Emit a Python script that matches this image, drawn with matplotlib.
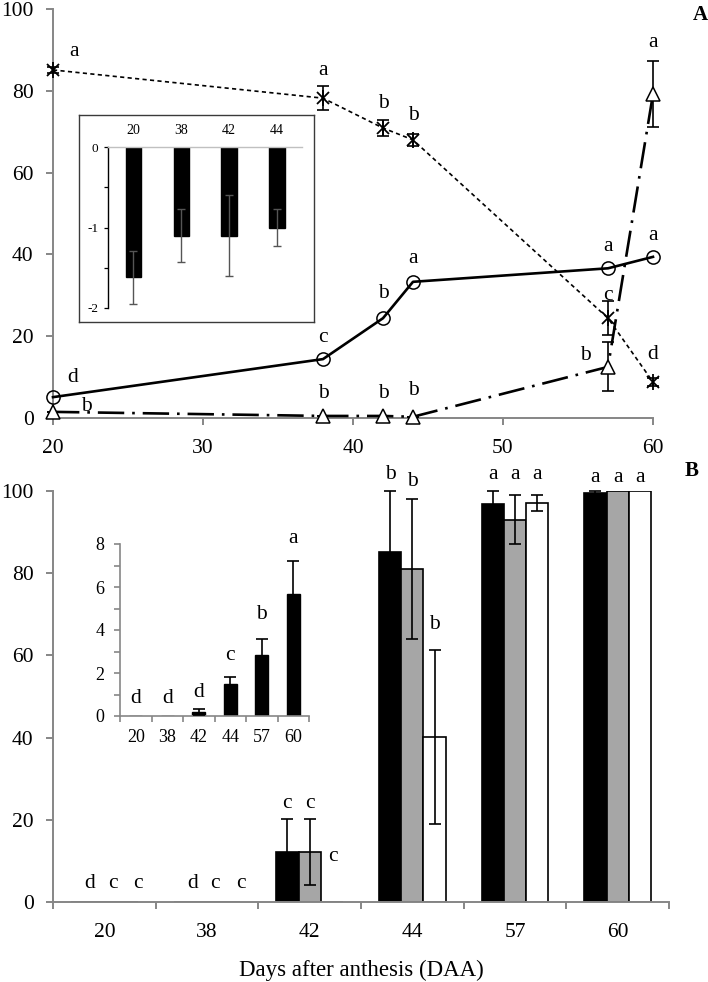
import matplotlib
matplotlib.use("Agg")
import matplotlib.pyplot as plt
import numpy as np

plt.rcParams['font.family'] = ['Liberation Serif', 'DejaVu Serif']

# ---------------- Panel A data ----------------
daa = [20, 38, 42, 44, 57, 60]
star_vals = [85.1, 78.2, 70.9, 68.0, 24.4, 8.8]
star_err = [0.8, 3.0, 2.0, 1.5, 4.2, 1.0]
star_letters = ['a', 'a', 'b', 'b', 'c', 'd']
circ_vals = [5.1, 14.4, 24.4, 33.3, 36.6, 39.4]
circ_letters = ['d', 'c', 'b', 'a', 'a', 'a']
tri_vals = [1.5, 0.5, 0.5, 0.3, 12.5, 79.2]
tri_err = [0, 0, 0, 0, 6.0, 8.0]
tri_letters = ['b', 'b', 'b', 'b', 'b', 'a']

inset_a_days = ['20', '38', '42', '44']
inset_a_vals = [-1.62, -1.10, -1.10, -1.00]
inset_a_err = [0.33, 0.33, 0.50, 0.23]

# ---------------- Panel B data ----------------
days_b = ['20', '38', '42', '44', '57', '60']
black_vals = [0, 0, 12.2, 85.1, 96.8, 99.6]
black_err = [0, 0, 8.1, 14.9, 3.2, 0.3]
gray_vals = [0, 0, 12.2, 81.0, 93.0, 100.0]
gray_err = [0, 0, 8.1, 17.0, 6.0, 0]
white_vals = [0, 0, 0, 40.1, 97.1, 100.0]
white_err = [0, 0, 0, 21.1, 2.0, 0]
black_letters = ['d', 'd', 'c', 'b', 'a', 'a']
gray_letters = ['c', 'c', 'c', 'b', 'a', 'a']
white_letters = ['c', 'c', 'c', 'b', 'a', 'a']

inset_b_days = ['20', '38', '42', '44', '57', '60']
inset_b_vals = [0, 0, 0.19, 1.5, 2.86, 5.67]
inset_b_err = [0, 0, 0.14, 0.33, 0.70, 1.55]
inset_b_letters = ['d', 'd', 'd', 'c', 'b', 'a']

# ---------------- label layout (positions, not data) ----------------
star_lab = [(1.4, 89.5), (0, 85), (0, 77), (0, 74), (0, 30), (0, 15.5)]
circ_lab = [(1.3, 9.8), (0, 19.8), (0, 30.5), (0, 39), (0, 42), (0, 44.7)]
tri_lab = [(2.2, 2.8), (0, 6), (0, 6), (0, 6.8), (-1.5, 15.4), (0, 91.7)]
black_lab = [(-0.14, 4.6), (-0.14, 4.6), (-0.217, 24), (-0.217, 103.9), (-0.217, 103.9), (-0.217, 103.4)]
gray_lab = [(0.08, 4.6), (0.08, 4.6), (0.0, 24), (0.0, 102.2), (0.0, 103.9), (0.0, 103.4)]
white_lab = [(0.33, 4.6), (0.33, 4.6), (0.225, 11), (0.217, 67.4), (0.217, 103.9), (0.217, 103.4)]
inset_b_lab_y = [0.8, 0.8, 1.08, 2.8, 4.7, 8.25]

W, H = 708, 982
SP = '#868686'
FS = 15.5

def fax(l, t, r, b):
    return [l / W, 1 - b / H, (r - l) / W, (b - t) / H]

fig = plt.figure(figsize=(W / 100, H / 100), dpi=100)

# ================= Panel A =================
axA = fig.add_axes(fax(53, 9, 653, 418))
axA.set_xlim(20, 60)
axA.set_ylim(0, 100)

axA.errorbar(daa, star_vals, yerr=star_err, fmt='none', ecolor='k',
             elinewidth=1.2, capsize=4, capthick=1.2, clip_on=False, zorder=3)
axA.plot(daa, star_vals, ls=(0, (2.5, 2)), lw=1.2, color='k', clip_on=False, zorder=3)
axA.plot(daa, star_vals, ls='none', color='k', marker='x', ms=9, mew=1.3,
         clip_on=False, zorder=3)
axA.plot(daa, star_vals, ls='none', color='k', marker='|', ms=11, mew=1.3,
         clip_on=False, zorder=3)
axA.plot(daa, circ_vals, ls='-', lw=1.9, color='k', marker='o', ms=9.5,
         mfc='none', mec='k', mew=1.1, clip_on=False, zorder=4)
axA.errorbar(daa, tri_vals, yerr=tri_err, fmt='none', ecolor='k',
             elinewidth=1.2, capsize=4, capthick=1.2, clip_on=False, zorder=3)
axA.plot(daa, tri_vals, ls=(0, (10, 3, 1, 3)), lw=1.9, color='k', marker='^',
         ms=10, mfc='white', mec='k', mew=1.1, clip_on=False, zorder=5)

for letters, lab in ((star_letters, star_lab), (circ_letters, circ_lab), (tri_letters, tri_lab)):
    for x, s, (dx, y) in zip(daa, letters, lab):
        axA.text(x + dx, y, s, ha='center', va='center', fontsize=FS, zorder=6, clip_on=False)

axA.set_xticks([20, 30, 40, 50, 60])
axA.set_yticks([0, 20, 40, 60, 80, 100])
for sp in ['top', 'right']:
    axA.spines[sp].set_visible(False)
for sp in ['left', 'bottom']:
    axA.spines[sp].set_color(SP)
    axA.spines[sp].set_linewidth(1.4)
axA.tick_params(axis='both', direction='out', length=5, width=1.4, color=SP,
                labelsize=FS)
axA.tick_params(axis='y', pad=9)
axA.tick_params(axis='x', pad=10)

fig.text(700 / W, 1 - 15 / H, 'A', fontsize=15, fontweight='bold', ha='center', va='center')

# ---- Inset A ----
boxA = fig.add_axes(fax(79, 115, 314, 322))
boxA.set_xticks([]); boxA.set_yticks([])
for sp in boxA.spines.values():
    sp.set_color('#3a3a3a'); sp.set_linewidth(1.0)
boxA.set_facecolor('white')
boxA.set_zorder(10)

axIa = fig.add_axes(fax(108, 147, 302, 308))
axIa.set_zorder(11)
axIa.patch.set_alpha(0)
xa = np.arange(len(inset_a_vals))
axIa.bar(xa, inset_a_vals, 0.32, color='k', edgecolor='k', zorder=2)
axIa.errorbar(xa, inset_a_vals, yerr=inset_a_err, fmt='none', ecolor='#555555',
              elinewidth=1.0, capsize=3, capthick=1.0, zorder=3)
axIa.set_xlim(-0.533, 3.525)
axIa.set_ylim(-2, 0)
axIa.xaxis.tick_top()
axIa.set_xticks(xa)
axIa.set_xticklabels(inset_a_days, fontsize=10)
axIa.tick_params(axis='x', length=0, pad=7)
axIa.set_yticks([0, -1, -2])
axIa.set_yticklabels(['0', '-1', '-2'])
axIa.set_yticks([-0.5, -1.5], minor=True)
axIa.tick_params(axis='y', which='both', direction='out', length=3, width=0.9,
                 labelsize=9.5, pad=4)
axIa.spines['right'].set_visible(False)
axIa.spines['bottom'].set_visible(False)
axIa.spines['top'].set_color('#c0c0c0')
axIa.spines['top'].set_linewidth(1.0)
axIa.spines['left'].set_color('k')
axIa.spines['left'].set_linewidth(1.0)

# ================= Panel B =================
axB = fig.add_axes(fax(53, 491, 669, 902))
xb = np.arange(len(days_b))
bw = 0.217
series = [(black_vals, black_err, 'black', -bw), (gray_vals, gray_err, '#a6a6a6', 0.0),
          (white_vals, white_err, 'white', bw)]
for vals, errs, col, off in series:
    axB.bar(xb + off, vals, bw, color=col, edgecolor='k', linewidth=1.2, zorder=2)
    e = np.array(errs)
    m = e > 0
    axB.errorbar((xb + off)[m], np.array(vals)[m], yerr=e[m], fmt='none', ecolor='k',
                 elinewidth=1.2, capsize=4.5, capthick=1.2, zorder=3, clip_on=False)

for letters, lab in ((black_letters, black_lab), (gray_letters, gray_lab), (white_letters, white_lab)):
    for x, s, (dx, y) in zip(xb, letters, lab):
        axB.text(x + dx, y, s, ha='center', va='center', fontsize=FS, zorder=6, clip_on=False)

axB.set_xlim(-0.5, 5.5)
axB.set_ylim(0, 100)
axB.set_xticks(np.arange(-0.5, 6.0, 1.0))
axB.set_xticklabels([])
axB.set_xticks(xb, minor=True)
axB.set_xticklabels(days_b, minor=True)
axB.set_yticks([0, 20, 40, 60, 80, 100])
for sp in ['top', 'right']:
    axB.spines[sp].set_visible(False)
for sp in ['left', 'bottom']:
    axB.spines[sp].set_color(SP)
    axB.spines[sp].set_linewidth(1.4)
axB.tick_params(axis='both', which='major', direction='out', length=5, width=1.4,
                color=SP, labelsize=FS)
axB.tick_params(axis='y', pad=9)
axB.tick_params(axis='x', which='minor', length=0, labelsize=FS, pad=15)

fig.text(361 / W, 1 - 970 / H, 'Days after anthesis (DAA)', fontsize=16.5,
         ha='center', va='center')
fig.text(692 / W, 1 - 471 / H, 'B', fontsize=15, fontweight='bold', ha='center', va='center')

# ---- Inset B ----
axIb = fig.add_axes(fax(120, 544, 309, 716))
axIb.patch.set_alpha(0)
axIb.set_zorder(10)
axIb.bar(xb, inset_b_vals, 0.41, color='k', edgecolor='k', zorder=2)
eb = np.array(inset_b_err)
mb = eb > 0
axIb.errorbar(xb[mb], np.array(inset_b_vals)[mb], yerr=eb[mb], fmt='none', ecolor='k',
              elinewidth=1.2, capsize=4, capthick=1.2, zorder=3)
for x, s, y in zip(xb, inset_b_letters, inset_b_lab_y):
    axIb.text(x, y, s, ha='center', va='center', fontsize=FS, clip_on=False)
axIb.set_xlim(-0.5, 5.5)
axIb.set_ylim(0, 8)
axIb.set_xticks(np.arange(-0.5, 6.0, 1.0))
axIb.set_xticklabels([])
axIb.set_xticks(xb, minor=True)
axIb.set_xticklabels(inset_b_days, minor=True)
axIb.set_yticks([0, 2, 4, 6, 8])
axIb.set_yticks([1, 3, 5, 7], minor=True)
for sp in ['top', 'right']:
    axIb.spines[sp].set_visible(False)
for sp in ['left', 'bottom']:
    axIb.spines[sp].set_color(SP)
    axIb.spines[sp].set_linewidth(1.2)
axIb.tick_params(axis='both', which='both', direction='out', length=4, width=1.2,
                 color=SP, labelsize=13)
axIb.tick_params(axis='y', which='major', pad=7)
axIb.tick_params(axis='x', which='minor', length=0, pad=9)

fig.savefig('out.png', dpi=100)
